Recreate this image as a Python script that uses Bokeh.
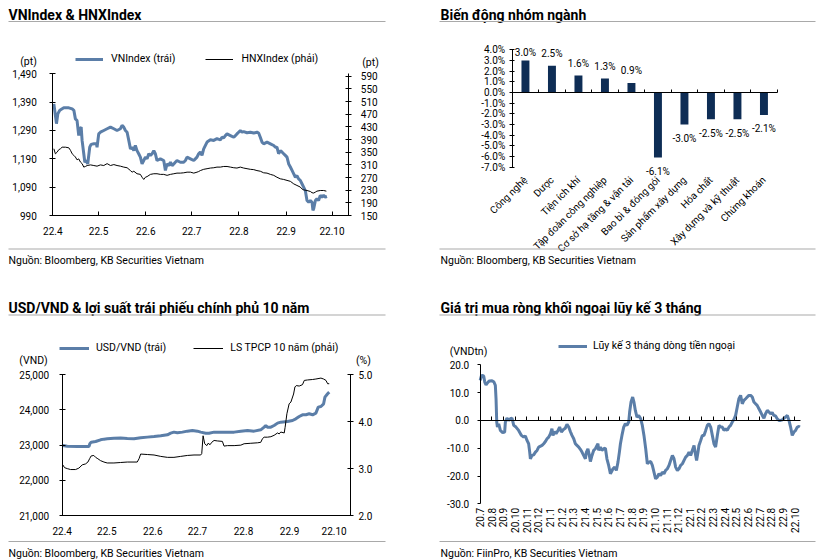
import pandas as pd
from math import pi
from bokeh.plotting import figure
from bokeh.layouts import column, row
from bokeh.models import (ColumnDataSource, Range1d, LinearAxis, FixedTicker,
                          NumeralTickFormatter, PrintfTickFormatter, Label, LabelSet,
                          BoxAnnotation, Legend, LegendItem)
from bokeh.core.properties import value
from bokeh.embed import file_html
from bokeh.resources import INLINE

# ---------------- DATA ----------------
# Panel 1: VNIndex & HNXIndex (x = days since 2022-04-01)
vn_day = [0.7, 2.4, 3.3, 4.6, 7.2, 10.5, 12.7, 13.8, 14.8, 15.9, 17.0, 17.7, 18.6, 19.2, 20.3, 21.0, 22.1, 22.9,
          24.2, 25.1, 26.9, 28.6, 29.0, 30.1, 31.2, 33.4, 35.6, 37.8, 40.0, 42.1, 44.3, 45.4, 46.5, 47.6, 48.7,
          49.8, 50.9, 52.0, 53.1, 54.1, 55.2, 56.3, 57.4, 58.5, 59.6, 60.7, 61.8, 62.9, 64.0, 65.1, 66.2, 67.2,
          68.3, 70.5, 72.7, 73.8, 74.9, 76.0, 77.1, 78.2, 79.3, 80.3, 81.4, 83.6, 85.8, 86.9, 88.0, 90.2, 92.4,
          94.5, 95.6, 96.7, 97.8, 98.9, 101.1, 103.3, 105.5, 107.6, 109.8, 110.9, 112.0, 113.1, 114.2, 116.4,
          118.6, 119.7, 120.7, 121.8, 122.9, 124.0, 125.1, 127.3, 129.5, 131.7, 133.8, 134.9, 136.0, 137.1,
          138.2, 140.4, 142.6, 144.8, 145.9, 146.9, 148.0, 149.1, 150.2, 151.3, 152.4, 153.5, 154.6, 155.7,
          156.8, 157.9, 159.0, 160.0, 161.1, 162.2, 163.3, 164.4, 165.5, 166.6, 167.7, 168.8, 169.9, 170.5,
          171.0, 172.1, 173.1, 174.2, 175.3, 176.4, 177.5, 178.6, 179.7]
vn_val = [1384, 1314, 1349, 1361, 1370, 1370, 1366, 1361, 1331, 1325, 1272, 1296, 1302, 1255, 1208, 1178, 1184, 1172,
          1231, 1241, 1243, 1243, 1231, 1278, 1284, 1290, 1296, 1302, 1296, 1290, 1296, 1308, 1302, 1290, 1284,
          1255, 1225, 1231, 1219, 1237, 1219, 1208, 1196, 1172, 1184, 1196, 1190, 1208, 1202, 1208, 1219, 1208,
          1184, 1190, 1184, 1149, 1172, 1166, 1178, 1166, 1172, 1178, 1184, 1178, 1178, 1184, 1196, 1190, 1184,
          1196, 1208, 1214, 1202, 1225, 1249, 1257, 1255, 1261, 1257, 1266, 1264, 1272, 1278, 1272,
          1266, 1272, 1278, 1284, 1290, 1284, 1286, 1282, 1284, 1281, 1284, 1281, 1266, 1249,
          1243, 1249, 1243, 1237, 1231, 1231, 1208, 1219, 1214, 1208, 1202, 1196, 1172, 1161,
          1149, 1137, 1125, 1131, 1119, 1114, 1102, 1090, 1078, 1043, 1037, 1043, 1037, 1008,
          1014, 1043, 1049, 1043, 1061, 1055, 1061, 1055, 1057]
hnx_day = [0.7, 1.7, 2.8, 3.9, 5.0, 6.1, 8.3, 10.5, 11.6, 12.7, 13.8, 14.8, 15.9, 17.0, 18.1, 19.2, 20.3, 21.4,
           22.5, 24.7, 26.9, 29.0, 31.2, 33.4, 35.6, 37.8, 40.0, 42.1, 44.3, 46.5, 48.7, 50.9, 52.0, 53.1, 55.2,
           57.4, 58.5, 59.6, 60.7, 61.8, 64.0, 66.2, 68.3, 70.5, 72.7, 74.9, 77.1, 79.3, 81.4, 83.6, 85.8, 88.0,
           90.2, 92.4, 94.5, 95.6, 96.7, 98.9, 101.1, 103.3, 105.5, 107.6, 109.8, 112.0, 114.2, 116.4, 118.6,
           120.7, 122.9, 125.1, 127.3, 129.5, 131.7, 133.8, 136.0, 138.2, 140.4, 142.6, 144.8, 146.9, 149.1,
           151.3, 153.5, 155.7, 157.9, 160.0, 162.2, 163.3, 164.4, 166.6, 168.8, 169.9, 171.0, 172.1, 173.1,
           175.3, 177.5, 179.3]
hnx_val = [361, 345, 350, 358, 361, 366, 366, 364, 356, 345, 340, 335, 326, 329, 319, 314, 303, 305,
           308, 310, 308, 306, 310, 308, 314, 308, 311, 308, 306, 303, 301, 292, 287, 290, 282,
           280, 271, 264, 271, 273, 280, 282, 282, 280, 280, 277, 280, 282, 284, 284, 285, 287,
           287, 284, 287, 289, 292, 296, 298, 300, 301, 303, 303, 305, 305, 303, 301,
           300, 303, 300, 298, 296, 295, 292, 290, 285, 284, 280, 277, 271, 266,
           264, 261, 258, 250, 245, 240, 234, 231, 229, 226, 222, 221, 224, 227,
           229, 229, 227]
month_labels_22 = ["22.4", "22.5", "22.6", "22.7", "22.8", "22.9", "22.10"]

# Panel 2: sector performance (%)
sectors = ["Công nghệ", "Dược", "Tiện ích khí", "Tập đoàn công nghiệp", "Cơ sở hạ tầng & vận tải",
           "Bao bì & đóng gói", "Sản phẩm xây dựng", "Hóa chất", "Xây dựng và kỹ thuật", "Chứng khoán"]
sector_chg = [3.0, 2.5, 1.6, 1.3, 0.9, -6.1, -3.0, -2.5, -2.5, -2.1]

# Panel 3: USD/VND & 10Y government bond yield (x = days since 2022-04-01)
usd_day = [0.4, 3.4, 10.1, 18.0, 18.6, 19.5, 22.5, 25.8, 28.1, 30.3, 34.8, 39.3, 43.8, 48.3, 52.8, 57.3, 61.8,
           66.3, 70.8, 73.0, 75.2, 77.5, 80.9, 84.2, 87.6, 91.0, 93.2, 96.6, 98.8, 102.2, 106.7, 111.2, 115.7,
           120.2, 124.7, 129.1, 133.6, 135.9, 137.0, 138.1, 140.4, 142.6, 144.9, 147.1, 151.6, 155.0, 157.2,
           159.5, 161.7, 164.0, 166.2, 168.5, 170.7, 172.3, 174.1, 175.9, 176.8, 178.6, 179.7]
usd_val = [22990, 22971, 22962, 22962, 23038, 23085, 23104, 23152, 23171, 23180, 23195, 23200, 23190, 23185, 23209,
           23228, 23246, 23265, 23294, 23341, 23370, 23351, 23370, 23398, 23417, 23398, 23370, 23341, 23341, 23370,
           23370, 23370, 23370, 23398, 23417, 23398, 23436, 23512, 23559, 23512, 23512, 23559, 23626, 23654,
           23673, 23701, 23749, 23815, 23863, 23863, 23891, 23863, 23910, 24081, 24100, 24175, 24365, 24460, 24507]
ls_day = [0.4, 1.6, 3.4, 5.6, 9.0, 11.2, 13.5, 15.7, 17.3, 18.6, 19.5, 21.3, 22.5, 24.0, 25.8, 28.1, 30.3, 34.8,
          39.3, 43.8, 50.5, 51.7, 52.8, 57.3, 61.8, 66.3, 70.8, 75.2, 79.7, 84.2, 88.7, 93.2, 93.9, 94.8, 95.9,
          97.3, 98.2, 99.5, 100.6, 102.2, 104.4, 107.8, 108.9, 111.2, 115.7, 120.2, 122.4, 126.9, 131.4, 133.6,
          134.8, 135.9, 138.1, 140.4, 142.6, 144.9, 146.0, 147.1, 149.4, 150.0, 151.2, 152.7, 153.9, 155.7,
          156.6, 157.5, 159.5, 161.7, 162.9, 165.1, 168.5, 170.7, 174.1, 175.9, 177.5, 178.6, 179.7]
ls_val = [3.08, 3.02, 3.00, 2.98, 2.98, 3.01, 3.08, 3.10, 3.14, 3.22, 3.27, 3.28, 3.24, 3.21, 3.17, 3.14, 3.12, 3.12,
          3.13, 3.14, 3.14, 3.21, 3.31, 3.30, 3.29, 3.26, 3.24, 3.24, 3.26, 3.28, 3.29, 3.29, 3.32, 3.70, 3.53,
          3.49, 3.54, 3.51, 3.56, 3.60, 3.59, 3.58, 3.48, 3.49, 3.49, 3.50, 3.53, 3.54, 3.55, 3.56,
          3.64, 3.67, 3.67, 3.68, 3.71, 3.76, 3.74, 3.78, 3.76, 3.88, 4.17, 4.38, 4.42, 4.59,
          4.74, 4.77, 4.76, 4.79, 4.88, 4.89, 4.90, 4.91, 4.93, 4.91, 4.88, 4.81, 4.81]

# Panel 4: 3-month cumulative foreign net buying (VND tn), x = months since 2020-07
fx_month = [0.00, 0.10, 0.16, 0.30, 0.39, 0.50, 0.64, 0.79, 1.01, 1.18, 1.30, 1.36, 1.42, 1.48, 1.59, 1.73, 1.93,
            2.10, 2.16, 2.30, 2.45, 2.59, 2.73, 2.88, 3.07, 3.30, 3.54, 3.73, 3.88, 4.02, 4.16, 4.25, 4.31, 4.45,
            4.59, 4.74, 4.88, 5.02, 5.31, 5.45, 5.60, 5.74, 5.88, 6.03, 6.16, 6.25, 6.39, 6.51, 6.68, 6.82, 6.97,
            7.17, 7.31, 7.45, 7.60, 7.74, 7.88, 8.03, 8.17, 8.31, 8.46, 8.60, 8.74, 8.88, 9.03, 9.12, 9.25, 9.37,
            9.46, 9.60, 9.74, 9.89, 10.03, 10.11, 10.17, 10.32, 10.45, 10.60, 10.75, 10.88, 11.03, 11.18, 11.26,
            11.40, 11.55, 11.69, 11.83, 11.95, 12.04, 12.17, 12.32, 12.46, 12.60, 12.75, 12.83, 12.95, 13.09,
            13.20, 13.32, 13.46, 13.61, 13.78, 13.92, 14.06, 14.21, 14.35, 14.49, 14.64, 14.78, 14.92, 15.06,
            15.21, 15.35, 15.49, 15.64, 15.78, 15.92, 16.07, 16.21, 16.35, 16.50, 16.64, 16.78, 16.93, 17.07,
            17.21, 17.36, 17.50, 17.64, 17.79, 17.93, 18.07, 18.21, 18.36, 18.50, 18.58, 18.70, 18.78, 18.93,
            19.07, 19.21, 19.36, 19.50, 19.64, 19.79, 19.93, 20.07, 20.21, 20.36, 20.50, 20.64, 20.79, 20.93,
            21.07, 21.21, 21.36, 21.50, 21.64, 21.79, 21.93, 22.07, 22.21, 22.36, 22.50, 22.64, 22.79, 22.93,
            23.07, 23.22, 23.36, 23.50, 23.64, 23.78, 23.93, 24.08, 24.22, 24.36, 24.50, 24.65, 24.79, 24.93,
            25.07, 25.21, 25.36, 25.50, 25.65, 25.79, 25.94, 26.08, 26.22, 26.37, 26.51, 26.65, 26.79, 26.94,
            27.08, 27.22, 27.37, 27.45]
fx_val = [14.4, 16.0, 16.2, 16.0, 13.8, 12.8, 13.6, 14.2, 14.3, 13.8, 12.6, 7.8, -0.6, -2.4, -1.2, -3.6, -4.4,
          -4.2, -0.6, 0.8, 0.0, 0.6, 0.8, -1.8, -2.4, -3.6, -5.4, -6.0, -5.6, -7.2, -8.4, -11.4, -13.8, -12.6,
          -12.4, -11.4, -10.8, -9.6, -9.0, -8.4, -7.6, -6.6, -6.0, -4.8, -3.0, -5.4, -4.0, -4.8, -3.6, -2.4, -4.2,
          -3.2, -2.8, -1.4, -2.4, -4.0, -5.4, -6.6, -8.4, -9.0, -9.6, -10.4, -11.4, -12.6, -13.8, -11.4, -10.2, -12.6,
          -14.8, -12.6, -10.8, -10.2, -9.0, -8.4, -10.8, -9.6, -10.8, -10.2, -10.0, -13.8, -16.2, -19.2, -18.6,
          -17.4, -16.8, -18.0, -15.0, -11.4, -8.4, -5.4, -2.4, -1.2, -1.8, -0.6, 3.0, 6.6, 8.4,
          6.6, 3.6, 1.2, 1.8, 0.6, -1.8, -5.4, -10.2, -15.6, -15.0, -14.8, -16.2, -18.6, -21.0,
          -20.4, -19.2, -19.8, -18.6, -19.2, -18.0, -17.4, -16.2, -14.4, -12.6, -13.8, -16.8, -18.0, -17.4,
          -16.2, -15.6, -14.4, -13.2, -12.6, -11.4, -12.6, -10.8, -9.0, -12.6, -14.4, -11.4, -9.0, -7.2,
          -5.4, -5.4, -3.6, -1.8, -1.2, -2.4, -5.4, -8.4, -9.6, -5.4, -1.8, -2.4, -2.4, -3.6,
          -3.0, -3.6, -2.4, -1.8, -0.6, 0.4, 1.8, 4.8, 7.8, 9.0, 6.0, 7.2, 7.8, 8.4,
          9.0, 9.0, 8.4, 6.6, 6.0, 5.4, 4.2, 3.0, 1.8, 0.8, 2.4, 3.6, 3.0, 2.4,
          2.8, 1.8, 1.6, 0.6, 0.0, 0.0, 0.2, 0.8, 1.2, 1.8, 0.0, -2.4, -5.4, -4.2,
          -3.6, -2.4, -2.2, -2.4]
fx_month_labels = ["20.7", "20.8", "20.9", "20.10", "20.11", "20.12", "21.1", "21.2", "21.3", "21.4", "21.5",
                   "21.6", "21.7", "21.8", "21.9", "21.10", "21.11", "21.12", "22.1", "22.2", "22.3", "22.4",
                   "22.5", "22.6", "22.7", "22.8", "22.9", "22.10"]

# ---------------- STYLE ----------------
FONT = "Roboto"
BLUE = "#5B7EA8"
NAVY = "#0E2D55"
SEP = "#A9A9A9"


def lin_range(c0, v0, c1, v1, size, flip=False):
    # canvas pixel c0 <-> value v0, c1 <-> v1; range covering canvas [0, size]
    k = (v1 - v0) / (c1 - c0)
    a = v0 - c0 * k
    b = v0 + (size - c0) * k
    return Range1d(start=b, end=a) if flip else Range1d(start=a, end=b)


def base_fig(w, h, xr, yr):
    p = figure(width=w, height=h, x_range=xr, y_range=yr, output_backend="svg", toolbar_location=None,
               min_border_left=0, min_border_right=0, min_border_top=0, min_border_bottom=0)
    p.frame_align = False
    p.xgrid.visible = False
    p.ygrid.visible = False
    p.outline_line_color = None
    p.border_fill_color = "white"
    p.background_fill_color = "white"
    return p


def axis_style(ax, loc, bounds, size="10px", tin=0, tout=0, standoff=5, line=True):
    ax.fixed_location = loc
    ax.bounds = bounds
    ax.axis_line_color = "black" if line else None
    ax.axis_line_width = 1
    ax.major_tick_line_color = "black"
    ax.major_tick_line_width = 1
    ax.major_tick_in = tin
    ax.major_tick_out = tout
    ax.minor_tick_line_color = None
    ax.major_label_text_font = FONT
    ax.major_label_text_font_size = size
    ax.major_label_text_color = "black"
    ax.major_label_standoff = standoff


def add_text(p, g, px, py, text, size="10.5px", bold=False, align="left", baseline="alphabetic"):
    ox, oy, h = g
    p.add_layout(Label(x=px - ox, y=h - (py - oy), x_units="screen", y_units="screen", text=text,
                       text_font=FONT, text_font_size=size, text_font_style="bold" if bold else "normal",
                       text_align=align, text_baseline=baseline, text_color="black"))


def add_hline(p, g, px0, px1, py, color=SEP, thick=1.2):
    ox, oy, h = g
    yy = h - (py - oy)
    p.add_layout(BoxAnnotation(left=px0 - ox, right=px1 - ox, bottom=yy - thick / 2, top=yy + thick / 2,
                               left_units="screen", right_units="screen", top_units="screen",
                               bottom_units="screen", fill_color=color, fill_alpha=1.0, line_color=None))


def add_legend(p, g, items, px, py, gw, standoff, spacing):
    ox, oy, h = g
    hh = 12
    leg = Legend(items=items, orientation="horizontal", location=(px - ox, h - (py - oy) - hh / 2),
                 glyph_width=gw, glyph_height=hh, label_height=hh, label_standoff=standoff, spacing=spacing,
                 padding=0, margin=0, border_line_color=None, background_fill_alpha=0,
                 label_text_font=FONT, label_text_font_size="10.5px", label_text_color="black")
    p.add_layout(leg)


month_start = pd.date_range("2022-04-01", periods=len(month_labels_22), freq="MS")
month_ticks = [int(d) for d in (month_start - month_start[0]).days]
X22_END = 194

# ---------------- PANEL 1 ----------------
g1 = (0, 0, 280)
p1 = base_fig(408, 280, lin_range(52.3, 0, 348.3, X22_END, 408), lin_range(73.3, 1490, 215, 990, 280, True))
p1.extra_y_ranges = {"hnx": lin_range(73.3, 598, 215, 150, 280, True)}
r_vn = p1.line(vn_day, vn_val, line_color=BLUE, line_width=3)
r_hnx = p1.line(hnx_day, hnx_val, line_color="black", line_width=1, y_range_name="hnx")
ax = p1.yaxis[0]
ax.ticker = FixedTicker(ticks=list(range(990, 1491, 100)))
ax.formatter = NumeralTickFormatter(format="0,0")
axis_style(ax, 0, (990, 1490), tin=3, tout=3, standoff=13)
rax = LinearAxis(y_range_name="hnx", ticker=FixedTicker(ticks=list(range(150, 591, 40))))
axis_style(rax, X22_END, (150, 598), tin=3, tout=3, standoff=9)
p1.add_layout(rax, "right")
xa = p1.xaxis[0]
xa.ticker = FixedTicker(ticks=month_ticks)
xa.major_label_overrides = {t: l for t, l in zip(month_ticks, month_labels_22)}
axis_style(xa, 990, (0, X22_END), tin=4, tout=0, standoff=11)
add_text(p1, g1, 8, 14, "VNIndex & HNXIndex", size="14px", bold=True)
add_hline(p1, g1, 8, 385, 21)
add_hline(p1, g1, 8, 385, 248.5)
add_text(p1, g1, 8, 260, "Nguồn: Bloomberg, KB Securities Vietnam", size="10.5px")
add_text(p1, g1, 28, 61, "(pt)", align="center", baseline="middle")
add_text(p1, g1, 370, 62, "(pt)", align="center", baseline="middle")
add_legend(p1, g1, [LegendItem(label="VNIndex (trái)", renderers=[r_vn]),
                    LegendItem(label="HNXIndex (phải)", renderers=[r_hnx])], 75, 59, 28, 8, 30)

# ---------------- PANEL 2 ----------------
g2 = (408, 0, 280)
n_sec = len(sectors)
p2 = base_fig(408, 280, lin_range(103.7, 0.5, 368.7, n_sec + 0.5, 408), lin_range(49.3, 4, 166.7, -7, 280, True))
cat_x = list(range(1, n_sec + 1))
p2.vbar(x=cat_x, top=sector_chg, width=0.3, fill_color=NAVY, line_color=None)
ya = p2.yaxis[0]
ya.ticker = FixedTicker(ticks=list(range(-7, 5)))
ya.formatter = PrintfTickFormatter(format="%.1f%%")
axis_style(ya, 0.5, (-7, 4), tin=2, tout=3, standoff=4)
xb = p2.xaxis[0]
xb.ticker = FixedTicker(ticks=cat_x)
xb.major_label_overrides = {i: s for i, s in zip(cat_x, sectors)}
xb.major_label_orientation = pi / 4
axis_style(xb, -7, (0.5, n_sec + 0.5), tin=0, tout=0, standoff=11, line=False)
xb.major_tick_line_color = None
zero2 = LinearAxis(ticker=FixedTicker(ticks=[i + 0.5 for i in range(n_sec + 1)]))
axis_style(zero2, 0, (0.5, n_sec + 0.5), tin=3, tout=0)
zero2.major_label_text_font_size = "0px"
zero2.major_label_text_alpha = 0
p2.add_layout(zero2, "below")
ppu2 = (166.7 - 49.3) / 11.0
lab_y = [min(v + 12 / ppu2, 4.0 - 2.7 / ppu2) if v >= 0 else v - 14 / ppu2 for v in sector_chg]
lab_src = ColumnDataSource(dict(x=cat_x, y=lab_y, t=[f"{v:.1f}%" for v in sector_chg]))
p2.add_layout(LabelSet(x="x", y="y", text="t", source=lab_src, text_align="center", text_baseline="middle",
                       text_font=value(FONT), text_font_size=value("10px"), text_color="black"))
add_text(p2, g2, 440, 14, "Biến động nhóm ngành", size="14px", bold=True)
add_hline(p2, g2, 439, 815, 21)
add_hline(p2, g2, 439, 815, 248.5)
add_text(p2, g2, 440, 260, "Nguồn: Bloomberg, KB Securities Vietnam", size="10.5px")

# ---------------- PANEL 3 ----------------
g3 = (0, 280, 279)
p3 = base_fig(408, 279, lin_range(61.7, 0, 350, X22_END, 408), lin_range(94.3, 25000, 235, 21000, 279, True))
p3.extra_y_ranges = {"ls": lin_range(94.3, 5.0, 235, 2.0, 279, True)}
r_usd = p3.line(usd_day, usd_val, line_color=BLUE, line_width=3)
r_ls = p3.line(ls_day, ls_val, line_color="black", line_width=1, y_range_name="ls")
ay3 = p3.yaxis[0]
ay3.ticker = FixedTicker(ticks=list(range(21000, 25001, 1000)))
ay3.formatter = NumeralTickFormatter(format="0,0")
axis_style(ay3, 0, (21000, 25000), tin=3, tout=3, standoff=10)
rax3 = LinearAxis(y_range_name="ls", ticker=FixedTicker(ticks=[2.0, 3.0, 4.0, 5.0]),
                  formatter=PrintfTickFormatter(format="%.1f"))
axis_style(rax3, X22_END, (2.0, 5.0), tin=3, tout=3, standoff=5)
p3.add_layout(rax3, "right")
xa3 = p3.xaxis[0]
xa3.ticker = FixedTicker(ticks=month_ticks)
xa3.major_label_overrides = {t: l for t, l in zip(month_ticks, month_labels_22)}
axis_style(xa3, 21000, (0, X22_END), tin=0, tout=0, standoff=11)
add_text(p3, g3, 8, 307.5, "USD/VND & lợi suất trái phiếu chính phủ 10 năm", size="14px", bold=True)
add_hline(p3, g3, 8, 385, 314.5)
add_hline(p3, g3, 8, 385, 541)
add_text(p3, g3, 8, 552.5, "Nguồn: Bloomberg, KB Securities Vietnam", size="10.5px")
add_text(p3, g3, 33, 360, "(VND)", align="center", baseline="middle")
add_text(p3, g3, 363, 360, "(%)", align="center", baseline="middle")
add_legend(p3, g3, [LegendItem(label="USD/VND (trái)", renderers=[r_usd]),
                    LegendItem(label="LS TPCP 10 năm (phải)", renderers=[r_ls])], 59, 348, 30, 7, 27)

# ---------------- PANEL 4 ----------------
g4 = (408, 280, 279)
n_m = len(fx_month_labels)
X4_END = 27.5
p4 = base_fig(408, 279, lin_range(71.7, 0, 392, X4_END, 408), lin_range(84.3, 20, 223.3, -30, 279, True))
r_fx = p4.line(fx_month, fx_val, line_color=BLUE, line_width=3)
ay4 = p4.yaxis[0]
ay4.ticker = FixedTicker(ticks=list(range(-30, 21, 10)))
ay4.formatter = PrintfTickFormatter(format="%.1f")
axis_style(ay4, 0, (-30, 20), tin=0, tout=3, standoff=8)
m_idx = list(range(n_m))
xb4 = p4.xaxis[0]
xb4.ticker = FixedTicker(ticks=m_idx)
xb4.major_label_overrides = {i: s for i, s in zip(m_idx, fx_month_labels)}
xb4.major_label_orientation = pi / 2
axis_style(xb4, -30, (0, X4_END), tin=0, tout=0, standoff=4, line=False)
xb4.major_tick_line_color = None
zero4 = LinearAxis(ticker=FixedTicker(ticks=m_idx[1:]))
axis_style(zero4, 0, (0, X4_END), tin=4, tout=0)
zero4.major_label_text_font_size = "0px"
zero4.major_label_text_alpha = 0
p4.add_layout(zero4, "below")
add_text(p4, g4, 440, 307.5, "Giá trị mua ròng khối ngoại lũy kế 3 tháng", size="14px", bold=True)
add_hline(p4, g4, 439, 815, 314.5)
add_hline(p4, g4, 439, 815, 541)
add_text(p4, g4, 440, 552.5, "Nguồn: FiinPro, KB Securities Vietnam", size="10.5px")
add_text(p4, g4, 468, 351, "(VNDtn)", align="center", baseline="middle")
add_legend(p4, g4, [LegendItem(label="Lũy kế 3 tháng dòng tiền ngoại", renderers=[r_fx])], 558, 346, 29, 6, 20)

layout = column(row(p1, p2), row(p3, p4))
open("out.html", "w").write(file_html(layout, INLINE, "chart"))
